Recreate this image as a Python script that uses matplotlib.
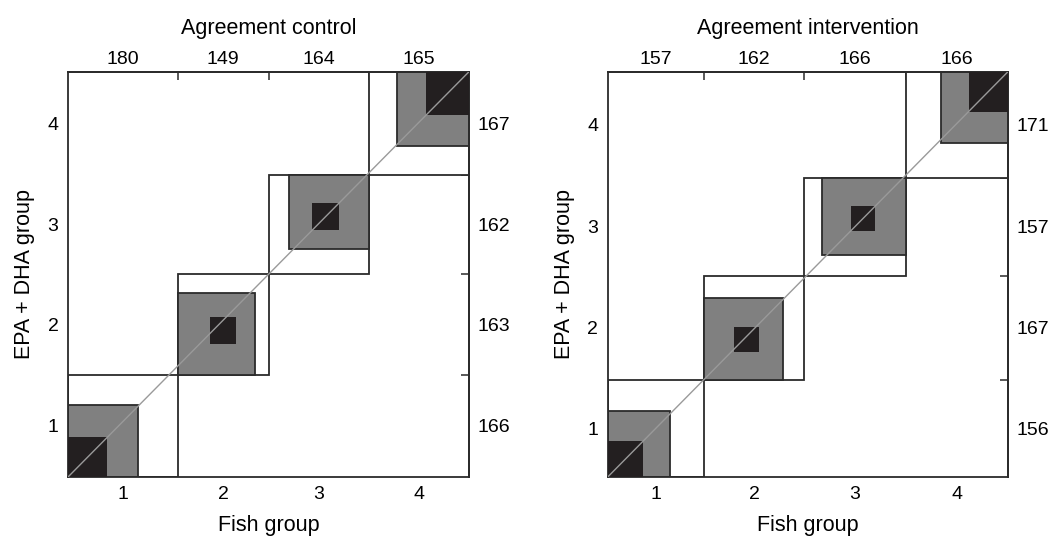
import numpy as np
import matplotlib
matplotlib.use("Agg")
import matplotlib.pyplot as plt
from matplotlib.patches import Rectangle

plt.rcParams['font.family'] = ['Liberation Sans', 'DejaVu Sans']

groups = ['1', '2', '3', '4']

# rows = EPA+DHA group (y), columns = Fish group (x), estimated from the chart
control = np.array([[64, 52, 33, 17],
                    [50, 44, 39, 30],
                    [41, 31, 43, 47],
                    [25, 22, 49, 71]])

intervention = np.array([[57, 48, 30, 21],
                         [44, 41, 46, 36],
                         [33, 39, 40, 45],
                         [23, 34, 50, 64]])

titles = ['Agreement control', 'Agreement intervention']

EDGE = '#2b2b2b'
GRAY = '#808080'
BLACK = '#231f20'
TICK_FS = 14
LABEL_FS = 15.5


def agreement_chart(ax, tab, title):
    k = tab.shape[0]
    colsum = tab.sum(axis=0)
    rowsum = tab.sum(axis=1)
    N = tab.sum()
    xcum = np.concatenate([[0], np.cumsum(colsum)])
    ycum = np.concatenate([[0], np.cumsum(rowsum)])

    for i in range(k):
        x0, y0 = xcum[i], ycum[i]
        ax.add_patch(Rectangle((x0, y0), colsum[i], rowsum[i], fc='white',
                               ec=EDGE, lw=1.3, zorder=1))
        # partial agreement (adjacent categories)
        lo, hi = max(i - 1, 0), min(i + 1, k - 1)
        gx = x0 + tab[:lo, i].sum()
        gy = y0 + tab[i, :lo].sum()
        gw = tab[lo:hi + 1, i].sum()
        gh = tab[i, lo:hi + 1].sum()
        ax.add_patch(Rectangle((gx, gy), gw, gh, fc=GRAY, ec=EDGE, lw=1.3, zorder=2))
        # exact agreement
        bx = x0 + tab[:i, i].sum()
        by = y0 + tab[i, :i].sum()
        ax.add_patch(Rectangle((bx, by), tab[i, i], tab[i, i], fc=BLACK,
                               ec='none', zorder=3))

    ax.plot([0, N], [0, N], color='#9a9a9a', lw=1.0, zorder=4)
    ax.set_xlim(0, N)
    ax.set_ylim(0, N)

    xc = (xcum[:-1] + xcum[1:]) / 2
    yc = (ycum[:-1] + ycum[1:]) / 2
    ax.set_xticks(xc)
    ax.set_xticklabels(groups, fontsize=TICK_FS)
    ax.set_yticks(yc)
    ax.set_yticklabels(groups, fontsize=TICK_FS)
    ax.tick_params(length=0, pad=7)
    ax.set_xlabel('Fish group', fontsize=LABEL_FS, labelpad=8)
    ax.set_ylabel('EPA + DHA group', fontsize=LABEL_FS, labelpad=9)

    top = ax.secondary_xaxis('top')
    top.set_xticks(xcum[1:-1])
    top.set_xticklabels([])
    top.set_xticks(xc, minor=True)
    top.set_xticklabels([str(v) for v in colsum], minor=True, fontsize=TICK_FS)
    top.tick_params(which='major', direction='in', length=6, width=1.1, color=EDGE)
    top.tick_params(which='minor', length=0, pad=3)
    top.set_xlabel(title, fontsize=LABEL_FS, labelpad=12)

    right = ax.secondary_yaxis('right')
    right.set_yticks(ycum[1:-1])
    right.set_yticklabels([])
    right.set_yticks(yc, minor=True)
    right.set_yticklabels([str(v) for v in rowsum], minor=True, fontsize=TICK_FS)
    right.tick_params(which='major', direction='in', length=6, width=1.1, color=EDGE)
    right.tick_params(which='minor', length=0, pad=6)

    for a in (ax, top, right):
        for s in a.spines.values():
            s.set_linewidth(1.3)
            s.set_color(EDGE)


fig = plt.figure(figsize=(10.57, 5.36), dpi=100)
ax1 = fig.add_axes([0.0646, 0.1106, 0.3791, 0.7556])
ax2 = fig.add_axes([0.5752, 0.1106, 0.3784, 0.7556])

agreement_chart(ax1, control, titles[0])
agreement_chart(ax2, intervention, titles[1])

fig.savefig('out.png', dpi=100)
